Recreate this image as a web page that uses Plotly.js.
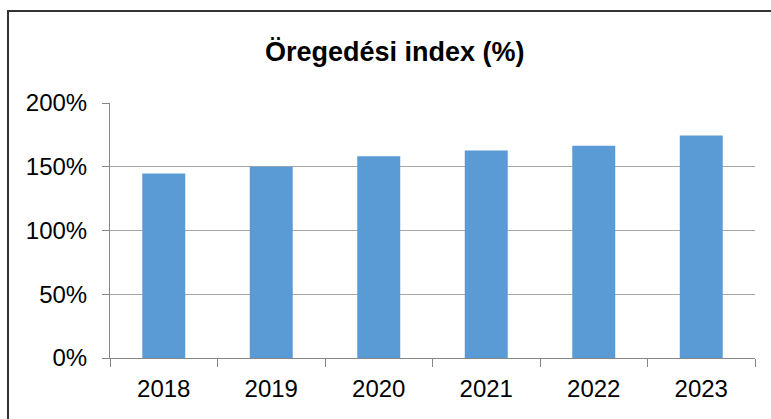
<!DOCTYPE html>
<html>
<head>
<meta charset="utf-8">
<script src="https://cdn.plot.ly/plotly-3.0.1.min.js"></script>
<style>
html,body{margin:0;padding:0;background:#fff;overflow:hidden;}
#wrap{position:relative;width:771px;height:419px;overflow:hidden;}
#chart{width:771px;height:419px;}
#frame{position:absolute;left:7px;top:10px;width:780px;height:430px;border:2px solid #333333;pointer-events:none;}
</style>
</head>
<body>
<div id="wrap"><div id="chart"></div><div id="frame"></div></div>
<script>
const years = ['2018','2019','2020','2021','2022','2023'];
const agingIndex = [144.7, 150, 158.3, 162.7, 166.4, 174.5];
const yTickVals = [0, 50, 100, 150, 200];
const yTickText = ['0%','50%','100%','150%','200%'];

Plotly.newPlot('chart', [{
  type: 'bar',
  x: years,
  y: agingIndex,
  marker: {color: '#5B9BD5'},
  hoverinfo: 'none'
}], {
  width: 771, height: 419,
  margin: {l: 110, r: 16, t: 103, b: 61},
  paper_bgcolor: 'rgba(0,0,0,0)',
  plot_bgcolor: '#ffffff',
  bargap: 0.6,
  showlegend: false,
  title: {
    text: '<b>Öregedési index (%)</b>',
    font: {family: 'Liberation Sans, Arial, sans-serif', size: 27, color: '#000000'},
    x: 0.512, xanchor: 'center', xref: 'container',
    y: 0.876, yanchor: 'middle', yref: 'container'
  },
  xaxis: {
    type: 'category',
    showline: true, linecolor: '#868686', linewidth: 1,
    ticks: 'outside', tickson: 'boundaries', ticklen: 8, tickcolor: '#868686',
    showgrid: false,
    tickfont: {family: 'Liberation Sans, Arial, sans-serif', size: 24, color: '#000000'},
    ticklabelstandoff: 9,
    fixedrange: true
  },
  yaxis: {
    range: [0, 200],
    tickvals: yTickVals, ticktext: yTickText,
    showline: true, linecolor: '#868686', linewidth: 1,
    ticks: 'outside', ticklen: 7, tickcolor: '#868686',
    showgrid: true, gridcolor: '#A6A6A6', gridwidth: 1,
    zeroline: false,
    tickfont: {family: 'Liberation Sans, Arial, sans-serif', size: 24, color: '#000000'},
    ticklabelstandoff: 10,
    fixedrange: true
  }
}, {displayModeBar: false, staticPlot: true});
</script>
</body>
</html>
